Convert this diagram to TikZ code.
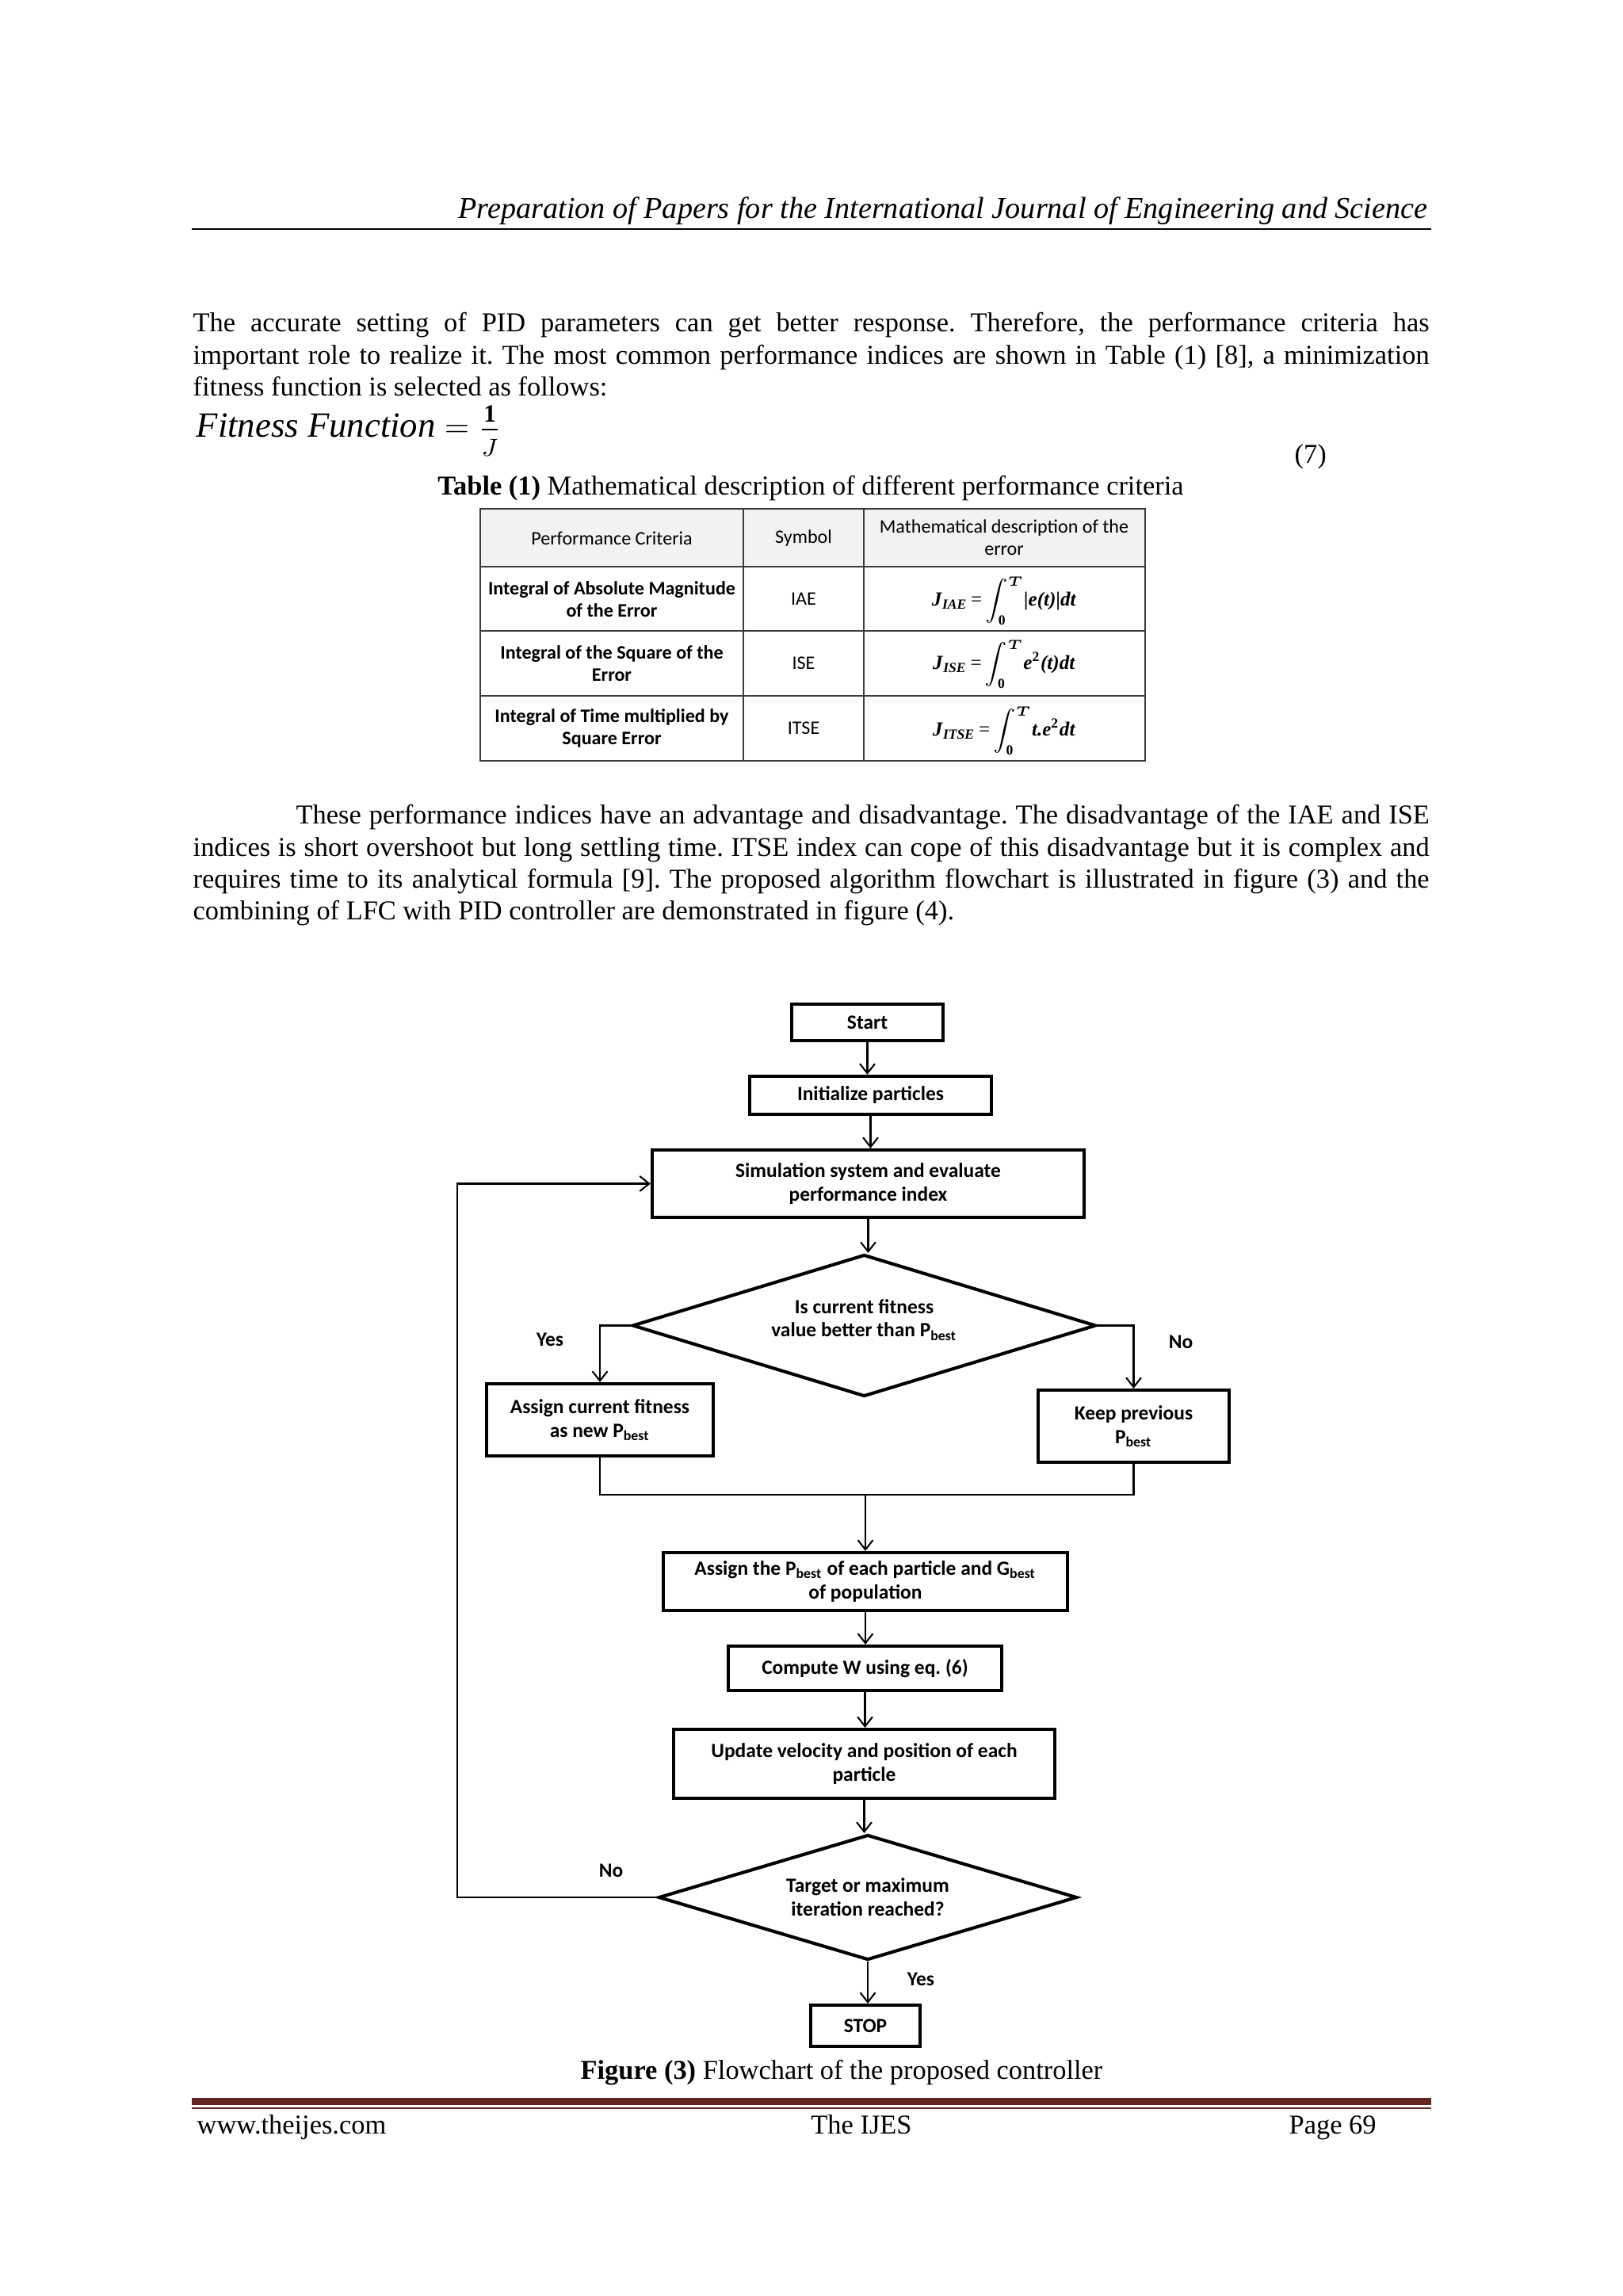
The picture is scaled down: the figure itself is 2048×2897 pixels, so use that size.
\documentclass[tikz,border=0pt]{standalone}
\usepackage{fontspec}
\usepackage{amsmath}
\setmainfont{Liberation Serif}
\newfontfamily\calibri{Carlito}
\usetikzlibrary{arrows.meta,shapes.geometric}
\definecolor{footred}{RGB}{99,36,35}
\definecolor{tabline}{RGB}{60,60,60}
\definecolor{tabhead}{RGB}{242,242,242}
\frenchspacing
\newcommand{\pb}{P\textsubscript{best}}
\newcommand{\gb}{G\textsubscript{best}}
\newcommand{\jline}[2][453.3pt]{\makebox[#1][s]{#2}}
\newcommand{\bi}[1]{\textbf{\textit{#1}}}
\newcommand{\myint}{$\displaystyle\int_{\mathbf{0}}^{\boldsymbol{T}}$}
\newcommand{\mIAE}{\bi{J}\textsubscript{\bi{IAE}}\,=\,\myint\bi{\textbar e(t)\textbar dt}}
\newcommand{\mISE}{\bi{J}\textsubscript{\bi{ISE}}\,=\,\myint\bi{e}\textsuperscript{\textbf{2}}\bi{(t)dt}}
\newcommand{\mITSE}{\bi{J}\textsubscript{\bi{ITSE}}\,=\,\myint\bi{t.e}\textsuperscript{\textbf{2}}\bi{dt}}
\newcommand{\fitfrac}{$\displaystyle=\frac{\raisebox{-2.5pt}{$\scriptstyle\mathbf{1}$}}{\raisebox{1.5pt}{$\scriptstyle J$}}$}
\begin{document}
\begin{tikzpicture}[x=0.2906pt,y=-0.2906pt,
  body/.style={inner sep=0pt, font=\fontsize{10}{12}\selectfont},
  sz/.style 2 args={minimum width=#1*0.2906pt, minimum height=#2*0.2906pt},
  box/.style={draw, line width=1.2pt, rectangle, inner sep=0pt, align=center, font=\calibri\bfseries\fontsize{7.4}{8.7}\selectfont},
  dia/.style={draw, diamond, line width=1.2pt, inner sep=0pt, align=center, font=\calibri\bfseries\fontsize{7.4}{8.7}\selectfont},
  lbl/.style={inner sep=0pt, font=\calibri\bfseries\fontsize{7.4}{8.7}\selectfont},
  tcell/.style={inner sep=0pt, align=center, font=\calibri\fontsize{7}{8.2}\selectfont},
  tcellb/.style={inner sep=0pt, align=center, font=\calibri\bfseries\fontsize{7}{8.2}\selectfont},
  tmath/.style={inner sep=0pt, font=\fontsize{7.3}{9}\selectfont},
  conn/.style={line width=0.6pt},
  arr/.style={conn, -{Straight Barb[length=3.5pt,width=5.5pt]}}]
\path[use as bounding box, fill=white] (0,0) rectangle (2048,2897);

% header
\node[anchor=base east, inner sep=0pt, font=\itshape\fontsize{11.1}{13}\selectfont] (hdr) at (1802,276) {Preparation of Papers for the International Journal of Engineering and Science};
\draw[line width=0.8pt] (242,289) -- (1806,289);

% paragraph 1
\node[body, anchor=base west] (p1a) at (243,419) {\jline{The accurate setting of PID parameters can get better response. Therefore, the performance criteria has}};
\node[body, anchor=base west] (p1b) at (243,460) {\jline{important role to realize it. The most common performance indices are shown in Table (1) [8], a minimization}};
\node[body, anchor=base west] (p1c) at (243,500) {fitness function is selected as follows:};

% formula
\node[anchor=base west, inner sep=0pt, font=\fontsize{13}{15}\selectfont] (fit) at (247,552) {\textit{Fitness Function} \fitfrac};
\node[body, anchor=base west] (eq7) at (1633,585) {(7)};

% table caption
\node[body, anchor=base] (tcap) at (1023,624) {\textbf{Table (1)} Mathematical description of different performance criteria};

% table
\fill[tabhead] (606,642) rectangle (1445,715);
\draw[tabline, line width=0.55pt] (606,642) rectangle (1445,960);
\draw[tabline, line width=0.55pt] (606,715) -- (1445,715);
\draw[tabline, line width=0.55pt] (606,796) -- (1445,796);
\draw[tabline, line width=0.55pt] (606,878) -- (1445,878);
\draw[tabline, line width=0.55pt] (938,642) -- (938,960);
\draw[tabline, line width=0.55pt] (1090,642) -- (1090,960);

\node[tcell] (h1) at (772,679) {Performance Criteria};
\node[tcell] (h2) at (1014,679) {Symbol};
\node[tcell] (h3) at (1267,678) {Mathematical description of the\\error};

\node[tcellb] (r1a) at (772,756) {Integral of Absolute Magnitude\\of the Error};
\node[tcell] (r1b) at (1014,756) {IAE};
\node[tmath] (r1c) at (1267,758) {\mIAE};

\node[tcellb] (r2a) at (772,837) {Integral of the Square of the\\Error};
\node[tcell] (r2b) at (1014,837) {ISE};
\node[tmath] (r2c) at (1267,838) {\mISE};

\node[tcellb] (r3a) at (772,919) {Integral of Time multiplied by\\Square Error};
\node[tcell] (r3b) at (1014,919) {ITSE};
\node[tmath] (r3c) at (1267,922) {\mITSE};

% paragraph 2
\node[body, anchor=base west] (p2a) at (373,1039) {\jline[415.6pt]{These performance indices have an advantage and disadvantage. The disadvantage of the IAE and ISE}};
\node[body, anchor=base west] (p2b) at (243,1080) {\jline{indices is short overshoot but long settling time. ITSE index can cope of this disadvantage but it is complex and}};
\node[body, anchor=base west] (p2c) at (243,1120) {\jline{requires time to its analytical formula [9]. The proposed algorithm flowchart is illustrated in figure (3) and the}};
\node[body, anchor=base west] (p2d) at (243,1160) {combining of LFC with PID controller are demonstrated in figure (4).};

% flowchart
\node[box, sz={191}{46}] (start) at (1094.5,1290) {Start};
\node[box, sz={305}{48}] (init) at (1098.5,1382) {Initialize particles};
\node[box, sz={545}{85}] (sim) at (1095.5,1493.5) {Simulation system and evaluate\\performance index};
\node[dia, sz={585}{179}, aspect=3.27, text depth=5.5pt] (d1) at (1090.5,1672.5) {Is current fitness\\value better than \pb};
\node[box, sz={286}{91}] (as1) at (757,1791.5) {Assign current fitness\\as new \pb};
\node[box, sz={241}{91}] (keep) at (1430.5,1799.5) {Keep previous\\\pb};
\node[box, sz={510}{73}] (as2) at (1092,1995.5) {Assign the \pb\ of each particle and \gb\\of population};
\node[box, sz={345}{56}] (comp) at (1091.5,2105) {Compute W using eq. (6)};
\node[box, sz={481}{87}] (upd) at (1090.5,2225.5) {Update velocity and position of each\\particle};
\node[dia, sz={528}{158}, aspect=3.34] (d2) at (1095,2394) {Target or maximum\\iteration reached?};
\node[box, sz={138}{52}] (stop) at (1092,2556) {STOP};

\node[lbl] (yes1) at (694,1690) {Yes};
\node[lbl] (no1) at (1490,1693) {No};
\node[lbl] (no2) at (771,2360) {No};
\node[lbl] (yes2) at (1162,2497) {Yes};

\coordinate (mj) at (1092,1886);
\coordinate (lt) at (577,1493.5);

\draw[arr] (start.south) -- (start.south|-init.north);
\draw[arr] (init.south) -- (init.south|-sim.north);
\draw[arr] (sim.south) -- (sim.south|-d1.north);
\draw[arr] (d1.west) -| (as1.north);
\draw[arr] (d1.east) -| (keep.north);
\draw[conn] (as1.south) |- (mj) -| (keep.south);
\draw[arr] (mj) -- (mj|-as2.north);
\draw[arr] (as2.south) -- (as2.south|-comp.north);
\draw[arr] (comp.south) -- (comp.south|-upd.north);
\draw[arr] (upd.south) -- (upd.south|-d2.north);
\draw[arr] (d2.south) -- (d2.south|-stop.north);
\draw[arr] (d2.west) -| (lt) -- (sim.west);

% figure caption
\node[body, anchor=base] (fcap) at (1062,2623) {\textbf{Figure (3)} Flowchart of the proposed controller};

% footer
\fill[footred] (242,2647) rectangle (1806,2656);
\fill[footred] (242,2659) rectangle (1806,2661);
\node[body, anchor=base west] (f1) at (248,2692) {www.theijes.com};
\node[body, anchor=base] (f2) at (1087,2692) {The IJES};
\node[body, anchor=base west] (f3) at (1626,2692) {Page 69};
\end{tikzpicture}
\end{document}
